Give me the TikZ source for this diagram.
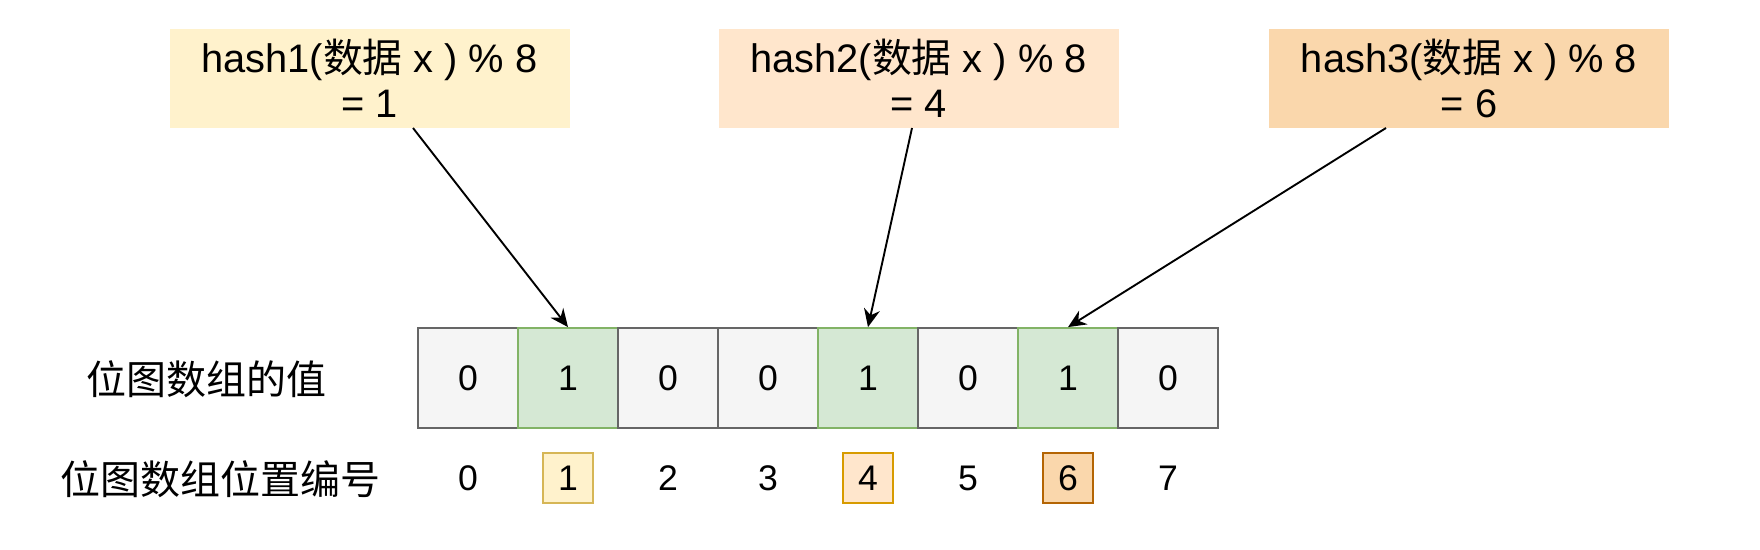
\documentclass[tikz,border=0pt]{standalone}
\usepackage{fontspec}
\setmainfont{Liberation Sans}
\newfontfamily\cjk{Noto Sans CJK SC}
\usetikzlibrary{arrows.meta}
\definecolor{yfill}{HTML}{FFF2CC}
\definecolor{ystroke}{HTML}{D6B656}
\definecolor{ofill}{HTML}{FFE6CC}
\definecolor{ostroke}{HTML}{D79B00}
\definecolor{dfill}{HTML}{FAD7AC}
\definecolor{dstroke}{HTML}{B46504}
\definecolor{gfill}{HTML}{D5E8D4}
\definecolor{gstroke}{HTML}{82B366}
\definecolor{cfill}{HTML}{F5F5F5}
\definecolor{cstroke}{HTML}{666666}
\tikzset{
  hashbox/.style={minimum width=200pt, minimum height=49.5pt, inner sep=0pt, align=center,
    font=\fontsize{19.9}{22.5}\selectfont},
  cellzero/.style={draw=cstroke, fill=cfill, line width=0.9pt, minimum width=50pt, minimum height=50pt,
    inner sep=0pt, font=\fontsize{17.8}{20}\selectfont},
  cellone/.style={cellzero, draw=gstroke, fill=gfill},
  idx/.style={inner sep=0pt, minimum width=25pt, minimum height=25pt, font=\fontsize{17.8}{20}\selectfont},
  idxbox/.style={idx, draw, line width=0.7pt},
  rowlabel/.style={inner sep=0pt, font=\cjk\fontsize{20}{22}\selectfont},
  arr/.style={line width=0.95pt, -{Stealth[length=9pt,width=8pt]}}
}
\begin{document}
\begin{tikzpicture}[x=0.5pt,y=-0.5pt]
\useasboundingbox (0,0) rectangle (1760,550);
% hash boxes
\node[hashbox, fill=yfill] (h1) at (369.5,78.5) {hash1({\cjk 数据} x ) \% 8\\= 1};
\node[hashbox, fill=ofill] (h2) at (918.5,78.5) {hash2({\cjk 数据} x ) \% 8\\= 4};
\node[hashbox, fill=dfill] (h3) at (1469,78.5) {hash3({\cjk 数据} x ) \% 8\\= 6};
% cells
\node[cellzero] (c0) at (468,378) {0};
\node[cellone]  (c1) at (568,378) {1};
\node[cellzero] (c2) at (668,378) {0};
\node[cellzero] (c3) at (768,378) {0};
\node[cellone]  (c4) at (868,378) {1};
\node[cellzero] (c5) at (968,378) {0};
\node[cellone]  (c6) at (1068,378) {1};
\node[cellzero] (c7) at (1168,378) {0};
% index row
\node[idx] (i0) at (468,478) {0};
\node[idxbox, draw=ystroke, fill=yfill] (i1) at (568,478) {1};
\node[idx] (i2) at (668,478) {2};
\node[idx] (i3) at (768,478) {3};
\node[idxbox, draw=ostroke, fill=ofill] (i4) at (868,478) {4};
\node[idx] (i5) at (968,478) {5};
\node[idxbox, draw=dstroke, fill=dfill] (i6) at (1068,478) {6};
\node[idx] (i7) at (1168,478) {7};
% row labels
\node[rowlabel] (l1) at (206,379) {位图数组的值};
\node[rowlabel] (l2) at (220,479) {位图数组位置编号};
% arrows
\coordinate (s1) at (413,128);
\coordinate (s2) at (912,128);
\coordinate (s3) at (1386,128);
\draw[arr] (s1) -- (c1.north);
\draw[arr] (s2) -- (c4.north);
\draw[arr] (s3) -- (c6.north);
\end{tikzpicture}
\end{document}
